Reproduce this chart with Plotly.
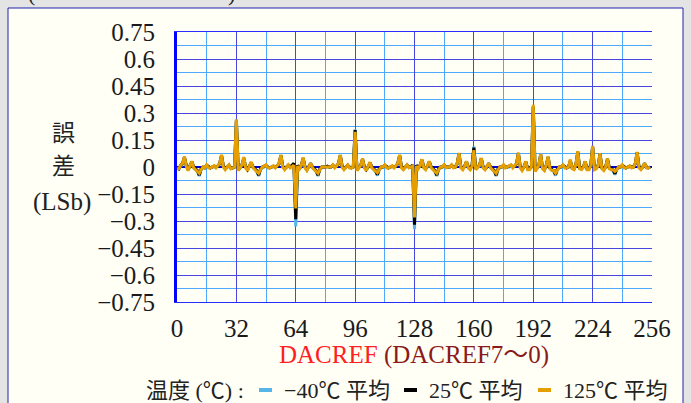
import plotly.graph_objects as go

# ---------------- data ----------------
codes = list(range(256))

err_m40 = [
    0.0, -0.01, 0.005, 0.015, 0.05, 0.005, -0.015, 0.005, 0.025, -0.005, -0.015, -0.025, -0.05, -0.015, -0.005, -0.005,
    0.005, 0.0, -0.005, 0.0, 0.0, 0.0, 0.005, 0.015, 0.06, 0.0, -0.01, 0.0, 0.005, -0.005, -0.005, 0.0,
    0.255, -0.015, 0.0, 0.01, 0.045, 0.0, -0.015, 0.005, 0.02, 0.0, -0.015, -0.025, -0.05, -0.015, -0.005, 0.0,
    0.005, 0.0, -0.005, 0.0, 0.0, 0.0, 0.005, 0.015, 0.06, 0.0, -0.01, 0.0, 0.005, 0.0, 0.005, 0.015,
    -0.33, 0.005, -0.01, 0.005, 0.045, 0.0, -0.015, 0.0, 0.015, 0.0, -0.015, -0.025, -0.05, -0.015, -0.005, 0.0,
    0.0, 0.0, 0.0, 0.0, 0.005, 0.0, 0.005, 0.015, 0.06, 0.0, -0.01, 0.0, 0.005, 0.0, -0.005, 0.0,
    0.21, -0.015, 0.0, 0.005, 0.04, 0.0, -0.015, 0.0, 0.02, 0.0, -0.015, -0.025, -0.048, -0.015, -0.005, 0.0,
    0.005, 0.0, -0.005, 0.0, 0.0, 0.0, 0.005, 0.015, 0.06, 0.0, -0.01, 0.0, 0.005, 0.0, 0.0, 0.005,
    -0.345, 0.005, -0.005, 0.005, 0.035, 0.0, -0.01, 0.0, 0.025, 0.0, -0.015, -0.025, -0.05, -0.015, -0.005, 0.0,
    0.005, 0.0, 0.0, 0.0, 0.005, 0.0, 0.0, 0.015, 0.07, 0.0, -0.01, 0.0, 0.025, 0.0, -0.01, 0.005,
    0.113, -0.01, 0.0, 0.005, 0.043, 0.0, -0.01, 0.0, 0.015, 0.0, -0.015, -0.025, -0.05, -0.015, -0.005, 0.0,
    0.005, 0.0, 0.0, 0.0, 0.005, 0.0, 0.005, 0.015, 0.072, 0.0, -0.015, 0.0, 0.025, -0.01, -0.01, 0.0,
    0.335, -0.02, -0.005, 0.005, 0.065, -0.005, -0.015, 0.005, 0.05, -0.005, -0.015, -0.025, -0.048, -0.015, -0.005, 0.0,
    0.005, 0.0, -0.005, 0.0, 0.03, -0.005, -0.01, 0.01, 0.08, -0.005, -0.01, 0.0, 0.025, -0.01, -0.01, 0.005,
    0.11, -0.01, -0.005, 0.005, 0.07, -0.005, -0.015, 0.0, 0.04, -0.005, -0.015, -0.02, -0.043, -0.015, -0.005, 0.0,
    0.005, 0.0, -0.005, 0.0, 0.0, 0.0, 0.0, 0.015, 0.077, 0.0, -0.01, 0.0, 0.015, 0.0, -0.005, 0.0,
]

err_25 = [
    0.0, -0.01, 0.01, 0.02, 0.055, 0.01, -0.015, 0.01, 0.03, 0.0, -0.01, -0.02, -0.045, -0.01, 0.0, -0.005,
    0.01, 0.0, -0.005, 0.0, 0.005, 0.0, 0.005, 0.02, 0.065, 0.005, -0.01, 0.0, 0.01, -0.005, -0.005, 0.0,
    0.26, -0.015, 0.0, 0.01, 0.05, 0.0, -0.015, 0.01, 0.025, 0.0, -0.01, -0.02, -0.045, -0.01, 0.0, 0.005,
    0.01, 0.0, -0.005, 0.0, 0.005, 0.0, 0.005, 0.02, 0.065, 0.005, -0.01, 0.0, 0.01, 0.0, 0.01, 0.02,
    -0.29, 0.01, -0.01, 0.01, 0.05, 0.0, -0.015, 0.005, 0.02, 0.0, -0.01, -0.02, -0.045, -0.01, 0.0, 0.0,
    0.0, 0.005, 0.0, 0.0, 0.01, 0.0, 0.005, 0.02, 0.065, 0.005, -0.01, 0.0, 0.01, 0.0, -0.005, 0.0,
    0.205, -0.015, 0.0, 0.01, 0.045, 0.0, -0.015, 0.0, 0.025, 0.0, -0.01, -0.02, -0.042, -0.01, 0.0, 0.0,
    0.01, 0.0, -0.005, 0.0, 0.005, 0.0, 0.005, 0.02, 0.065, 0.0, -0.01, 0.0, 0.01, 0.0, 0.0, 0.01,
    -0.32, 0.01, -0.005, 0.01, 0.04, 0.0, -0.01, 0.005, 0.03, 0.0, -0.01, -0.02, -0.045, -0.01, 0.0, 0.0,
    0.01, 0.0, 0.0, 0.0, 0.01, 0.0, 0.0, 0.02, 0.075, 0.0, -0.01, 0.005, 0.03, 0.0, -0.01, 0.01,
    0.107, -0.01, 0.0, 0.01, 0.048, 0.0, -0.01, 0.0, 0.02, 0.0, -0.01, -0.02, -0.045, -0.01, 0.0, 0.0,
    0.01, 0.0, 0.0, 0.005, 0.01, 0.0, 0.005, 0.02, 0.077, 0.0, -0.015, 0.0, 0.03, -0.01, -0.01, 0.0,
    0.335, -0.02, -0.005, 0.01, 0.07, -0.005, -0.015, 0.01, 0.055, -0.005, -0.015, -0.02, -0.042, -0.01, 0.0, 0.0,
    0.01, 0.0, -0.005, 0.0, 0.035, -0.005, -0.01, 0.015, 0.085, -0.005, -0.01, 0.0, 0.03, -0.01, -0.01, 0.01,
    0.115, -0.01, -0.005, 0.01, 0.075, -0.005, -0.015, 0.0, 0.045, -0.005, -0.01, -0.015, -0.037, -0.01, 0.0, 0.0,
    0.01, 0.0, -0.005, 0.0, 0.005, 0.0, 0.0, 0.02, 0.082, 0.0, -0.01, 0.0, 0.02, 0.0, -0.005, 0.0,
]

err_125 = [
    -0.01, -0.01, 0.01, 0.02, 0.058, 0.005, -0.02, 0.01, 0.032, -0.005, -0.015, -0.02, -0.035, -0.015, 0.0, -0.005,
    0.012, -0.005, -0.005, 0.0, 0.007, -0.005, 0.005, 0.02, 0.068, 0.0, -0.015, 0.0, 0.012, -0.01, -0.005, 0.0,
    0.265, -0.02, -0.005, 0.01, 0.055, -0.005, -0.02, 0.01, 0.028, -0.005, -0.015, -0.02, -0.035, -0.015, 0.0, 0.005,
    0.012, -0.005, -0.005, 0.0, 0.007, -0.005, 0.005, 0.02, 0.068, 0.0, -0.015, 0.0, 0.012, -0.005, 0.005, 0.01,
    -0.23, 0.005, -0.01, 0.01, 0.052, -0.005, -0.02, 0.005, 0.022, -0.005, -0.015, -0.02, -0.035, -0.015, 0.0, 0.0,
    0.002, 0.0, 0.0, 0.0, 0.012, -0.005, 0.005, 0.02, 0.068, 0.0, -0.015, 0.0, 0.012, -0.005, -0.005, 0.0,
    0.195, -0.02, -0.005, 0.01, 0.048, -0.005, -0.02, 0.0, 0.027, -0.005, -0.015, -0.02, -0.032, -0.015, 0.0, 0.0,
    0.012, -0.005, -0.005, 0.0, 0.007, -0.005, 0.005, 0.02, 0.068, -0.005, -0.015, 0.0, 0.012, -0.005, 0.0, 0.005,
    -0.28, 0.005, -0.01, 0.01, 0.043, -0.005, -0.015, 0.005, 0.032, -0.005, -0.015, -0.02, -0.035, -0.015, 0.0, 0.0,
    0.012, -0.005, 0.0, 0.0, 0.012, -0.005, 0.0, 0.02, 0.078, -0.005, -0.015, 0.005, 0.032, -0.005, -0.015, 0.005,
    0.094, -0.015, -0.005, 0.01, 0.05, -0.005, -0.015, 0.0, 0.022, -0.005, -0.015, -0.02, -0.035, -0.015, 0.0, 0.0,
    0.012, -0.005, 0.0, 0.005, 0.012, -0.005, 0.005, 0.02, 0.08, -0.005, -0.02, 0.0, 0.032, -0.015, -0.015, 0.0,
    0.345, -0.025, -0.01, 0.01, 0.072, -0.01, -0.02, 0.01, 0.058, -0.01, -0.02, -0.02, -0.035, -0.015, 0.0, 0.0,
    0.012, -0.005, -0.005, 0.0, 0.042, -0.01, -0.015, 0.015, 0.088, -0.01, -0.015, 0.0, 0.032, -0.015, -0.015, 0.01,
    0.117, -0.015, -0.01, 0.01, 0.077, -0.01, -0.02, 0.0, 0.047, -0.01, -0.015, -0.015, -0.025, -0.015, 0.0, 0.0,
    0.012, -0.005, -0.005, 0.0, 0.007, -0.005, 0.0, 0.02, 0.084, -0.005, -0.015, 0.0, 0.022, -0.005, -0.005, 0.0,
]

series_names = ["-40℃ 平均", "25℃ 平均", "125℃ 平均"]
legend_labels = ["−40℃ 平均", "25℃ 平均", "125℃ 平均"]
x_ticks = [0, 32, 64, 96, 128, 160, 192, 224, 256]
y_ticks = [0.75, 0.6, 0.45, 0.3, 0.15, 0, -0.15, -0.3, -0.45, -0.6, -0.75]
y_ticktext = ["0.75", "0.6", "0.45", "0.3", "0.15", "0", "−0.15", "−0.3", "−0.45", "−0.6", "−0.75"]

# ---------------- styling ----------------
W, H = 691, 403
L, R, T, B = 177, 652, 32, 302
colors = ["#56B4E9", "#000000", "#E69F00"]
SERIF = "Liberation Serif, Noto Sans CJK JP, serif"
CJK = "Noto Sans CJK JP, Liberation Serif, sans-serif"


def px(x):
    return (x - L) / (R - L)


def py(y):
    return (B - y) / (B - T)


fig = go.Figure()
for name, ys, c in zip(series_names, [err_m40, err_25, err_125], colors):
    fig.add_trace(go.Scatter(x=codes, y=ys, mode="lines", name=name,
                             line=dict(color=c, width=3), showlegend=False))

cream = "#fffff6"
fig.update_layout(
    width=W, height=H, autosize=False,
    margin=dict(l=L, r=W - R, t=T, b=H - B, pad=0),
    paper_bgcolor="#e4e4e4", plot_bgcolor=cream,
    xaxis=dict(range=[0, 256], tickvals=x_ticks, showgrid=True,
               gridcolor="#4646e0", gridwidth=1,
               minor=dict(tick0=0, dtick=16, showgrid=True, gridcolor="#4da8ff", gridwidth=1),
               showline=True, linecolor="#2a2aff", linewidth=1, mirror=True,
               ticks="outside", ticklen=4, tickcolor="rgba(0,0,0,0)",
               tickfont=dict(family=SERIF, size=25, color="#1a1a1a"), zeroline=False),
    yaxis=dict(range=[-0.75, 0.75], tickvals=y_ticks, ticktext=y_ticktext, showgrid=True,
               gridcolor="#4646e0", gridwidth=1,
               minor=dict(tick0=0, dtick=0.075, showgrid=True, gridcolor="#4da8ff", gridwidth=1),
               zeroline=True, zerolinecolor="#0000d0", zerolinewidth=2,
               showline=True, linecolor="#0000ff", linewidth=3,
               ticks="outside", ticklen=14, tickcolor="rgba(0,0,0,0)",
               tickfont=dict(family=SERIF, size=25, color="#1a1a1a")),
)

shapes = [
    dict(type="rect", xref="paper", yref="paper", x0=px(8), x1=px(683), y0=py(430), y1=py(8),
         fillcolor=cream, line=dict(color="#2020b0", width=1), layer="below"),
]
annotations = [
    dict(text="誤", x=px(63), y=py(131), font=dict(family=CJK, size=23, color="#222")),
    dict(text="差", x=px(63), y=py(164), font=dict(family=CJK, size=23, color="#222")),
    dict(text="(LSb)", x=px(62), y=py(202), font=dict(family=SERIF, size=25, color="#222")),
    dict(text="<span style='color:#ff2020'>DACREF</span> <span style='color:#8b1a1a'>(DACREF7～0)</span>",
         x=px(414), y=py(355), font=dict(family=SERIF, size=25)),
    dict(text="温度 (℃) :", x=px(144), y=py(390), xanchor="left",
         font=dict(family=SERIF, size=22, color="#222")),
    dict(text="(", x=px(31), y=py(-6), font=dict(family=SERIF, size=22, color="#222")),
    dict(text=")", x=px(231), y=py(-6), font=dict(family=SERIF, size=22, color="#222")),
]
dash_x = [259, 404, 538]
label_x = [282, 427, 561]
for c, dx, lx, lab in zip(colors, dash_x, label_x, legend_labels):
    shapes.append(dict(type="line", xref="paper", yref="paper", x0=px(dx), x1=px(dx + 13),
                       y0=py(390), y1=py(390), line=dict(color=c, width=4)))
    annotations.append(dict(text=lab, x=px(lx), y=py(390), xanchor="left",
                            font=dict(family=SERIF, size=22, color="#222")))

for a in annotations:
    a.update(xref="paper", yref="paper", showarrow=False)
    a.setdefault("xanchor", "center")
    a.setdefault("yanchor", "middle")

fig.update_layout(shapes=shapes, annotations=annotations)
fig.write_html("out.html", config={"displayModeBar": False},
               post_script="document.body.style.margin='0px';document.body.style.padding='0px';")
